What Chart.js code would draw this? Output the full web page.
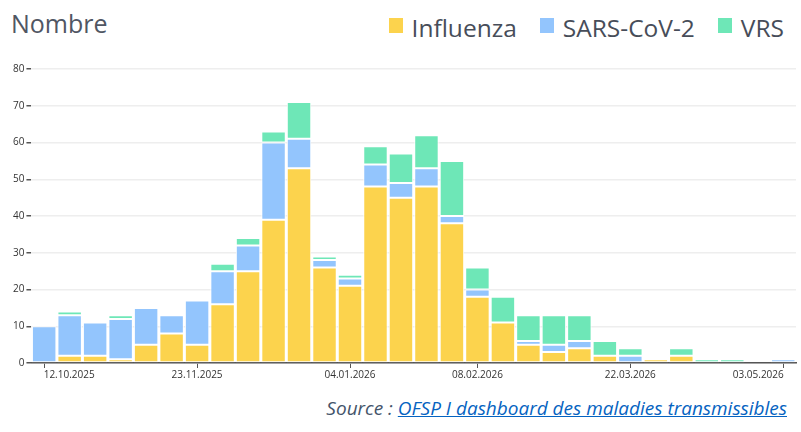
<!DOCTYPE html>
<html lang="fr">
<head>
<meta charset="utf-8">
<script src="https://cdn.jsdelivr.net/npm/chart.js@4.4.1/dist/chart.umd.min.js"></script>
<style>
  body { margin: 0; background: #fff; font-family: "Open Sans", sans-serif; }
  #cadre { position: relative; width: 801px; height: 432px; }
  #zoneGraphique { position: absolute; left: 0; top: 61px; width: 801px; height: 321px; }
  #titre { position: absolute; left: 11px; top: 6px; font-size: 25px; line-height: 34px; color: #505663; }
  #legende { position: absolute; right: 17px; top: 11px; display: flex; align-items: flex-start; font-size: 24.5px; line-height: 34px; color: #474d59; }
  #legende .element { display: flex; align-items: flex-start; margin-left: 23px; }
  #legende .carre { width: 14px; height: 15px; margin-top: 7px; margin-right: 9px; }
  #source { position: absolute; right: 14px; top: 395px; font-size: 19px; font-style: italic; color: #44546a; }
  #source a { color: #0563c1; text-decoration: underline; }
</style>
</head>
<body>
<div id="cadre">
  <div id="zoneGraphique"><canvas id="graphique"></canvas></div>
  <div id="titre">Nombre</div>
  <div id="legende"></div>
  <div id="source">Source : <a href="#">OFSP I dashboard des maladies transmissibles</a></div>
</div>
<script>
// Semaines (début de semaine)
const semaines = [
    '12.10.2025', '19.10.2025', '26.10.2025', '02.11.2025', '09.11.2025', '16.11.2025',
    '23.11.2025', '30.11.2025', '07.12.2025', '14.12.2025', '21.12.2025', '28.12.2025',
    '04.01.2026', '11.01.2026', '18.01.2026', '25.01.2026', '01.02.2026', '08.02.2026',
    '15.02.2026', '22.02.2026', '01.03.2026', '08.03.2026', '15.03.2026', '22.03.2026',
    '29.03.2026', '05.04.2026', '12.04.2026', '19.04.2026', '26.04.2026', '03.05.2026'
];

// Nombre de cas par virus
const influenza = [0, 2, 2, 1, 5, 8, 5, 16, 25, 39, 53, 26, 21, 48, 45, 48, 38, 18, 11, 5, 3, 4, 2, 0, 1, 2, 0, 0, 0, 0];
const sarsCov2 = [10, 11, 9, 11, 10, 5, 12, 9, 7, 21, 8, 2, 2, 6, 4, 5, 2, 2, 0, 1, 2, 2, 0, 2, 0, 0, 0, 0, 0, 1];
const vrs = [0, 1, 0, 1, 0, 0, 0, 2, 2, 3, 10, 1, 1, 5, 8, 9, 15, 6, 7, 7, 8, 7, 4, 2, 0, 2, 1, 1, 0, 0];

// Dates affichées sur l'axe horizontal
const etiquettesAxe = ['12.10.2025', '23.11.2025', '04.01.2026', '08.02.2026', '22.03.2026', '03.05.2026'];

const ctx = document.getElementById('graphique').getContext('2d');

const serie = (nom, valeurs, couleur) => ({
    label: nom,
    data: valeurs,
    backgroundColor: couleur,
    borderColor: '#ffffff',
    borderWidth: 1,
    borderSkipped: false,
    barPercentage: 0.96,
    categoryPercentage: 1
});

// les dates aux extrémités sont décalées vers l'intérieur (pas coupées au bord)
const espace = '\u2003\u2003\u2003\u2003\u2003';

const graphique = new Chart(ctx, {
    type: 'bar',
    data: {
        labels: semaines,
        datasets: [
            serie('Influenza', influenza, '#fcd34d'),
            serie('SARS-CoV-2', sarsCov2, '#93c5fd'),
            serie('VRS', vrs, '#6ee7b7')
        ]
    },
    options: {
        responsive: true,
        maintainAspectRatio: false,
        animation: false,
        layout: { padding: { left: 11, right: 5, top: 0, bottom: 0 } },
        plugins: {
            legend: { display: false },
            tooltip: { enabled: false }
        },
        scales: {
            x: {
                stacked: true,
                afterFit: (s) => { s.paddingLeft = 0; s.paddingRight = 0; },
                border: { display: true, color: '#555', width: 1.5 },
                grid: {
                    offset: false,
                    drawOnChartArea: false,
                    tickLength: 5,
                    tickColor: (c) => etiquettesAxe.includes(semaines[c.index]) ? '#555' : 'rgba(0,0,0,0)'
                },
                ticks: {
                    autoSkip: false,
                    maxRotation: 0,
                    color: '#333',
                    padding: 1,
                    font: { family: 'Open Sans', size: 10 },
                    callback: function (valeur, index) {
                        const d = semaines[index];
                        if (!etiquettesAxe.includes(d)) return '';
                        if (index === 0) return espace + d;
                        if (index === semaines.length - 1) return d + espace;
                        return d;
                    }
                }
            },
            y: {
                stacked: true,
                min: 0,
                max: 80,
                border: { display: false },
                grid: {
                    color: '#eeeeee',
                    lineWidth: 1.5,
                    tickColor: '#555',
                    tickLength: 5
                },
                ticks: {
                    stepSize: 10,
                    color: '#333',
                    padding: 2,
                    font: { family: 'Open Sans', size: 10 }
                }
            }
        }
    }
});

// Légende en HTML, construite à partir des séries du graphique
const legende = document.getElementById('legende');
graphique.data.datasets.forEach(ds => {
    const element = document.createElement('div');
    element.className = 'element';
    const carre = document.createElement('span');
    carre.className = 'carre';
    carre.style.background = ds.backgroundColor;
    element.appendChild(carre);
    element.appendChild(document.createTextNode(ds.label));
    legende.appendChild(element);
});
</script>
</body>
</html>
